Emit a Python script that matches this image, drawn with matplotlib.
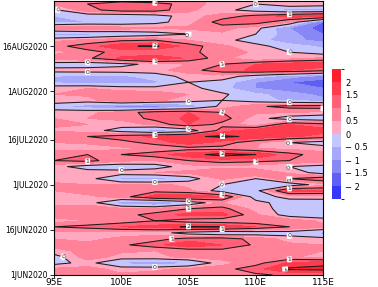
import matplotlib
matplotlib.use("Agg")
import matplotlib.pyplot as plt
import numpy as np
from matplotlib.colors import ListedColormap, BoundaryNorm

# longitude columns and day-of-period rows (day 0 = 1 Jun 2020)
lons = [95, 97.5, 100, 102.5, 105, 107.5, 110, 112.5, 115]
days = list(range(0, 91, 2)) + [91]

# anomaly field, one row per day in `days`, one value per longitude
anom = [
    [1.0, 0.8, 0.6, 0.7, 0.8, 0.8, 0.9, 1.1, 1.0],
    [0.6, 0.7, 0.3, 0.4, 0.6, 0.8, 1.3, 2.1, 2.2],
    [-0.2, 0.2, -0.6, -0.9, -0.6, 0.3, 0.8, 1.6, 1.8],
    [-0.3, 0.8, 0.3, 0.4, 0.6, 0.7, 1.0, 0.6, 0.3],
    [0.4, 0.6, 0.6, 0.5, 0.6, 0.8, 1.0, 0.8, 0.5],
    [0.6, 0.6, 0.9, 1.3, 2.0, 1.5, 0.9, 0.6, 0.5],
    [0.5, 0.4, 0.6, 0.8, 1.2, 1.3, 0.8, 0.3, 0.2],
    [0.4, 0.3, 0.3, 0.3, -0.3, -0.6, -0.4, -0.3, -0.7],
    [1.0, 1.2, 1.5, 1.7, 2.1, 2.0, 1.5, 1.0, 0.6],
    [0.3, 0.5, 0.7, 1.0, 0.7, 0.6, 0.6, 0.8, 0.4],
    [0.7, 0.6, 0.8, 1.2, 1.7, 1.7, 0.6, -0.3, -0.5],
    [0.6, 0.8, 0.6, 0.6, 1.0, 1.2, 0.3, -0.3, -0.4],
    [0.4, 0.3, -0.8, -1.2, -0.5, 0.5, 0.2, -0.3, -0.4],
    [0.3, 0.4, 0.7, 1.8, 1.9, 1.6, -0.3, 0.2, 0.3],
    [0.5, 0.7, 0.7, 0.8, 0.6, -0.3, -0.2, 1.8, 1.6],
    [0.6, 0.5, 0.5, 0.6, 0.4, 0.0, -0.5, -0.4, 0.3],
    [0.3, 0.2, -0.6, -0.8, -0.3, 0.6, 0.0, 1.0, 1.4],
    [0.5, 0.3, 0.3, 0.5, 0.6, 0.8, 1.0, 0.4, -0.3],
    [0.2, -0.3, -0.4, -0.3, 0.3, 0.4, 0.2, 0.0, -0.2],
    [1.0, 1.2, 0.6, 0.5, 1.0, 1.3, 1.2, 1.0, 0.7],
    [0.8, 1.0, 1.0, 1.3, 1.8, 2.2, 2.0, 1.2, 0.7],
    [0.3, 0.2, 0.4, 0.6, 0.8, 0.8, 0.5, 0.4, 0.3],
    [0.5, 0.6, 0.8, 1.2, 1.8, 1.3, 0.6, 0.0, -0.3],
    [0.9, 1.0, 1.3, 1.6, 1.9, 2.1, 1.9, 1.6, 1.3],
    [0.4, 0.3, -0.3, -0.8, -0.5, 1.3, 1.8, 2.0, 1.7],
    [0.6, 0.5, 0.3, 0.6, 1.5, 0.8, 0.2, 1.5, 1.2],
    [0.5, 0.5, 0.6, 1.2, 1.6, 1.3, 0.2, -0.3, -0.5],
    [0.3, 0.4, 0.7, 1.3, 1.5, 1.0, 0.6, 0.5, 0.4],
    [-0.4, -0.8, -1.3, -1.3, -1.0, 0.2, 0.9, 1.2, 1.3],
    [0.4, 0.3, 1.0, 0.6, 0.3, 0.0, -0.3, -0.6, -0.8],
    [0.5, 0.6, 0.8, 0.8, 0.5, 0.1, -0.4, -0.7, -1.2],
    [0.4, 0.5, 0.3, 0.2, 0.2, -0.3, -1.0, -1.4, -1.5],
    [-0.6, -0.7, -0.8, -0.6, 0.0, -0.2, -1.0, -1.5, -1.8],
    [-0.5, -0.7, -0.6, -0.3, 0.2, 0.3, -0.3, -0.8, -1.2],
    [0.2, 0.3, 0.3, 0.3, 0.8, 1.3, 1.6, 1.5, 1.2],
    [-0.3, -0.4, -0.2, 0.2, 0.5, 1.0, 1.5, 1.8, 1.8],
    [0.8, 0.9, 1.6, 2.0, 1.4, 0.7, 0.0, 0.3, 0.6],
    [0.3, 0.8, 1.2, 1.0, 1.1, 0.8, 0.4, 0.0, -0.3],
    [0.8, 1.3, 1.9, 2.1, 1.3, 0.6, 0.2, -0.3, -0.6],
    [0.4, 0.6, 0.9, 1.0, 0.5, 0.2, -0.3, -0.8, -1.2],
    [-0.8, -0.7, -0.5, -0.3, 0.0, 0.4, 0.0, -0.8, -1.5],
    [0.8, 1.0, 0.7, 0.6, 0.6, 0.7, 0.2, -1.0, -1.8],
    [-0.6, -0.5, -0.4, -0.2, 0.3, 1.3, 1.3, 0.5, -1.5],
    [-0.5, -0.4, -0.5, -0.3, 0.3, 0.7, 1.2, 1.7, 2.0],
    [-0.1, 0.8, 1.3, 1.3, 0.6, 0.2, -0.3, -0.8, -0.7],
    [0.6, 1.0, 1.5, 1.3, 0.7, 0.3, 0.0, 0.5, 0.3],
    [0.5, 0.7, 0.8, 0.6, 0.6, 0.4, 0.2, 0.4, 0.3],
]

shade_levels = [-2.5, -2, -1.5, -1, -0.5, 0, 0.5, 1, 1.5, 2, 2.5]
line_levels = [0, 1, 2]
shade_colors = ["#3737fa", "#5f5ff5", "#8787f5", "#a8a8fa", "#c6c6ff",
                "#ffa8bf", "#ff8299", "#ff6077", "#ff3c4e", "#ff1e2a"]
cbar_ticks = [-2, -1.5, -1, -0.5, 0, 0.5, 1, 1.5, 2]
cbar_labels = ["\u2212 2", "\u2212 1.5", "\u2212 1", "\u2212 0.5", "0", "0.5", "1", "1.5", "2"]
ytick_days = [0, 15, 30, 45, 61, 76]
ytick_labels = ["1JUN2020", "16JUN2020", "1JUL2020", "16JUL2020", "1AUG2020", "16AUG2020"]
xtick_lons = [95, 100, 105, 110, 115]
xtick_labels = ["95E", "100E", "105E", "110E", "115E"]

field = np.clip(np.array(anom), -2.49, 2.49)
cmap = ListedColormap(shade_colors)
norm = BoundaryNorm(shade_levels, cmap.N)

fig = plt.figure(figsize=(3.78, 2.87), dpi=100)
ax = fig.add_axes([54 / 378, 12 / 287, 269 / 378, 274 / 287])

cf = ax.contourf(lons, days, field, levels=shade_levels, cmap=cmap, norm=norm)
cs = ax.contour(lons, days, field, levels=line_levels, colors="#1e1e1e", linewidths=0.75)
lbls = ax.clabel(cs, fmt="%d", fontsize=4.5, inline=True, inline_spacing=1)
for t in lbls:
    t.set_bbox(dict(facecolor="white", edgecolor="none", pad=0.3))

ax.set_xlim(95, 115)
ax.set_ylim(0, 91)
ax.set_xticks(xtick_lons)
ax.set_xticklabels(xtick_labels, fontsize=6.5)
ax.set_yticks(ytick_days)
ax.set_yticklabels(ytick_labels, fontsize=5.5)
ax.tick_params(axis="x", direction="out", length=2, width=0.6, pad=0.5)
ax.tick_params(axis="y", direction="out", length=3, width=0.6, pad=1.5)
for sp in ax.spines.values():
    sp.set_linewidth(0.8)

cax = fig.add_axes([332 / 378, 88 / 287, 9 / 378, 130 / 287])
cb = fig.colorbar(cf, cax=cax, ticks=cbar_ticks)
cb.outline.set_visible(False)
cb.ax.tick_params(length=0, labelsize=6, pad=3)
cb.ax.set_yticklabels(cbar_labels)

fig.savefig("out.png", dpi=100)
